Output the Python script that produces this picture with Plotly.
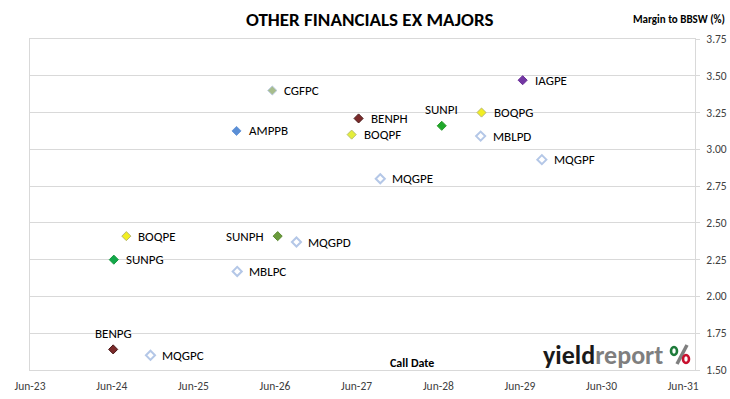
import plotly.graph_objects as go

# ---- data ----
names = ["CGFPC", "AMPPB", "BENPH", "BOQPF", "SUNPI", "BOQPG", "MBLPD", "IAGPE",
         "MQGPF", "MQGPE", "BOQPE", "SUNPG", "SUNPH", "MQGPD", "MBLPC", "BENPG", "MQGPC"]
call_dates = ["2026-06-18", "2026-01-09", "2027-07-09", "2027-06-08", "2028-07-15",
              "2029-01-09", "2029-01-05", "2029-07-12", "2029-10-06", "2027-10-14",
              "2024-09-03", "2024-07-09", "2026-07-12", "2026-10-04", "2026-01-12",
              "2024-07-06", "2024-12-20"]
margins = [3.40, 3.125, 3.21, 3.10, 3.16, 3.25, 3.09, 3.47,
           2.93, 2.80, 2.41, 2.25, 2.41, 2.37, 2.17, 1.64, 1.60]
fill_colors = ["#A7BD8C", "#5B8FD6", "#7B2A2A", "#E4EE3A", "#1FA82A", "#F2EE22", "#FFFFFF", "#7337A3",
               "#FFFFFF", "#FFFFFF", "#F2EE22", "#12A84A", "#6A9B3C", "#FFFFFF", "#FFFFFF", "#7B2A2A", "#FFFFFF"]
edge_colors = ["#B8C8E0", "#6E9BDA", "#4A1A1A", "#B8C070", "#2C9A2C", "#B8B870", "#B4C7E7", "#6A2E98",
               "#B4C7E7", "#B4C7E7", "#B8B870", "#1A9A40", "#5E8C34", "#B4C7E7", "#B4C7E7", "#4A1A1A", "#B4C7E7"]
label_pos = ["right", "right", "right", "right", "top",
             "right", "right", "right", "right", "right",
             "right", "right", "left", "right", "right",
             "top", "right"]

x_ticks = ["2023-06-30", "2024-06-30", "2025-06-30", "2026-06-30", "2027-06-30",
           "2028-06-30", "2029-06-30", "2030-06-30", "2031-06-30"]
x_tick_labels = ["Jun-23", "Jun-24", "Jun-25", "Jun-26", "Jun-27", "Jun-28", "Jun-29", "Jun-30", "Jun-31"]
y_ticks = [1.50, 1.75, 2.00, 2.25, 2.50, 2.75, 3.00, 3.25, 3.50, 3.75]

FONT = "Calibri, Carlito, Lato, 'Open Sans', sans-serif"

fig = go.Figure()
label_anns = []
for i, n in enumerate(names):
    hollow = fill_colors[i] == "#FFFFFF"
    fig.add_trace(go.Scatter(
        x=[call_dates[i]], y=[margins[i]],
        mode="markers",
        marker=dict(symbol="diamond", size=7,
                    color=fill_colors[i],
                    line=dict(color=edge_colors[i], width=2 if hollow else 1)),
        showlegend=False, cliponaxis=False, hoverinfo="skip"))
    p = label_pos[i]
    if p == "right":
        a = dict(xanchor="left", yanchor="middle", xshift=10, yshift=0)
    elif p == "left":
        a = dict(xanchor="right", yanchor="middle", xshift=-12, yshift=0)
    else:
        a = dict(xanchor="center", yanchor="middle", xshift=0, yshift=16)
    label_anns.append(dict(x=call_dates[i], y=margins[i], xref="x", yref="y", text=n,
                           showarrow=False, font=dict(family=FONT, size=13, color="#000000"), **a))

fig.update_layout(
    width=730, height=399,
    margin=dict(l=30, r=35, t=39, b=29, autoexpand=False),
    paper_bgcolor="white", plot_bgcolor="white",
    font=dict(family=FONT, size=11, color="#404040"),
    xaxis=dict(type="date", range=["2023-06-30", "2031-08-22"],
               tickvals=x_ticks, ticktext=x_tick_labels, automargin=False,
               showgrid=False, zeroline=False,
               showline=True, linecolor="#D9D9D9", linewidth=1, mirror=True,
               ticks="", ticklabelstandoff=5,
               tickfont=dict(family=FONT, size=11.5, color="#404040")),
    yaxis=dict(range=[1.5, 3.75], tickvals=y_ticks, tickformat=".2f", side="right",
               automargin=False,
               showgrid=True, gridcolor="#D9D9D9", gridwidth=1, zeroline=False,
               showline=True, linecolor="#D9D9D9", linewidth=1, mirror=True,
               ticks="outside", ticklen=4, tickcolor="#D9D9D9", ticklabelstandoff=4,
               tickfont=dict(family=FONT, size=11.5, color="#404040")),
    annotations=label_anns + [
        dict(text="<b>OTHER FINANCIALS EX MAJORS</b>", xref="paper", yref="paper",
             x=0.511, y=1.0, yshift=20, xanchor="center", yanchor="middle", showarrow=False,
             font=dict(family=FONT, size=19, color="#000000")),
        dict(text="<b>Margin to BBSW (%)</b>", xref="paper", yref="paper",
             x=1.0, y=1.0, xshift=32, yshift=20, xanchor="right", yanchor="middle", showarrow=False,
             font=dict(family=FONT, size=11, color="#000000")),
        dict(text="<b>Call Date</b>", xref="paper", yref="paper",
             x=0.574, y=0.0, yshift=7, xanchor="center", yanchor="middle", showarrow=False,
             font=dict(family=FONT, size=12, color="#000000")),
        dict(text="<b>yield</b><b><span style='color:#7F7F7F'>report</span></b>", xref="paper", yref="paper",
             x=0.955, y=0.0, yshift=15, xanchor="right", yanchor="middle", showarrow=False,
             font=dict(family=FONT, size=26, color="#1A1A1A")),
    ],
    shapes=[
        # "%" part of logo: slash + green and red rings
        dict(type="line", xref="paper", yref="paper", xsizemode="pixel", ysizemode="pixel",
             xanchor=(682 - 30) / 665, yanchor=(370 - 355) / 331,
             x0=5, y0=10, x1=-5, y1=-9, line=dict(color="#7F7F7F", width=3.5)),
        dict(type="circle", xref="paper", yref="paper", xsizemode="pixel", ysizemode="pixel",
             xanchor=(674 - 30) / 665, yanchor=(370 - 351) / 331,
             x0=-3, x1=3, y0=-4, y1=4, fillcolor="#FFFFFF", line=dict(color="#1E7B3A", width=2.6)),
        dict(type="circle", xref="paper", yref="paper", xsizemode="pixel", ysizemode="pixel",
             xanchor=(686 - 30) / 665, yanchor=(370 - 359) / 331,
             x0=-3, x1=3, y0=-4, y1=4, fillcolor="#FFFFFF", line=dict(color="#C8102E", width=2.6)),
    ],
)

fig.write_html("out.html", config={"displayModeBar": False},
               post_script="document.body.style.margin='0px';")
